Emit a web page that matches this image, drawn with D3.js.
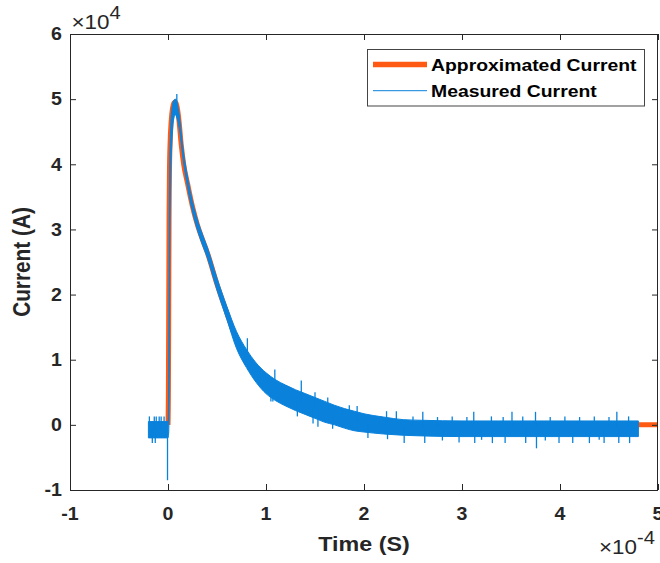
<!DOCTYPE html>
<html><head><meta charset="utf-8">
<script src="https://cdn.jsdelivr.net/npm/d3@7/dist/d3.min.js"></script>
<style>
body{margin:0;background:#fff}
text{font-family:"Liberation Sans",Arial,Helvetica,sans-serif}
</style>
</head><body>
<svg id="chart" width="660" height="563"></svg>
<script>
// ---- data (time in 1e-4 s, current in 1e4 A) ----
const xTicks = [-1, 0, 1, 2, 3, 4, 5];
const yTicks = [-1, 0, 1, 2, 3, 4, 5, 6];
const xTickLabels = ["-1", "0", "1", "2", "3", "4", "5"];
const yTickLabels = ["-1", "0", "1", "2", "3", "4", "5", "6"];
const seriesNames = ["Approximated Current", "Measured Current"];

// Approximated current (fitted curve)
const approxT = [0, 0.004, 0.008, 0.011, 0.015, 0.022, 0.032, 0.045, 0.06, 0.075, 0.09, 0.11, 0.135, 0.16, 0.2, 0.25, 0.3, 0.35, 0.4, 0.5, 0.6, 0.7, 0.8, 0.9, 1.0, 1.2, 1.4, 1.6, 1.8, 2.0, 2.4, 3.0, 4.0, 5.0];
const approxV = [0, 0.5, 2.0, 3.2, 3.9, 4.35, 4.65, 4.85, 4.94, 4.96, 4.9, 4.7, 4.3, 4.0, 3.7, 3.35, 3.07, 2.85, 2.65, 2.16, 1.72, 1.3, 1.02, 0.8, 0.64, 0.45, 0.32, 0.2, 0.11, 0.06, 0.02, 0.005, 0, 0];

// Measured current: dense noisy trace, read as a band (low / high envelope)
const measT  = [-0.2, 0.0, 0.008, 0.012, 0.018, 0.028, 0.04, 0.055, 0.075, 0.1, 0.12, 0.15, 0.2, 0.25, 0.3, 0.35, 0.4, 0.5, 0.6, 0.7, 0.8, 0.9, 1.0, 1.1, 1.2, 1.3, 1.4, 1.5, 1.6, 1.7, 1.8, 1.9, 2.0, 2.2, 2.4, 2.6, 3.0, 4.8];
const measLo = [-0.2, -0.2, -0.1, 0.5, 2.5, 3.8, 4.35, 4.67, 4.76, 4.66, 4.5, 4.12, 3.64, 3.27, 2.99, 2.77, 2.57, 2.07, 1.62, 1.17, 0.88, 0.65, 0.48, 0.37, 0.29, 0.22, 0.16, 0.1, 0.04, 0.0, -0.05, -0.09, -0.11, -0.14, -0.16, -0.17, -0.18, -0.18];
const measHi = [0.05, 0.05, 0.8, 3.0, 4.0, 4.6, 4.85, 4.97, 5.0, 4.9, 4.7, 4.28, 3.8, 3.43, 3.15, 2.93, 2.73, 2.25, 1.82, 1.43, 1.16, 0.95, 0.8, 0.69, 0.61, 0.54, 0.48, 0.42, 0.36, 0.3, 0.25, 0.21, 0.17, 0.12, 0.08, 0.07, 0.06, 0.06];
// Measured current: individual noise spikes (time, tip value)
const spikeT = [-0.19, -0.14, -0.12, -0.09, -0.07, -0.04, -0.16, -0.13, -0.005, 0.09,
  0.81, 1.09, 1.05, 1.07, 1.32, 1.36, 1.5, 1.63, 1.85, 1.93, 2.23, 2.33, 1.48, 1.68, 2.04, 2.24, 1.53,
  2.6, 3.12, 3.51, 3.75, 4.58, 2.5, 2.75, 2.9, 3.05, 3.3, 3.42, 3.62, 3.9, 4.05, 4.2, 4.35, 4.5, 4.7,
  2.41, 2.62, 2.97, 3.13, 3.31, 3.44, 3.65, 3.76, 3.99, 4.13, 4.3, 4.45, 4.6, 4.71, 2.8, 3.2, 3.85, 4.4];
const spikeV = [0.13, 0.13, 0.13, 0.13, 0.13, 0.13, -0.28, -0.28, -0.85, 5.08,
  1.33, 0.85, 0.36, 0.36, 0.13, 0.68, 0.5, 0.42, 0.3, 0.29, 0.21, 0.21, 0.02, -0.06, -0.2, -0.22, -0.03,
  0.2, 0.2, 0.2, 0.2, 0.2, 0.13, 0.12, 0.13, 0.12, 0.13, 0.12, 0.13, 0.12, 0.13, 0.12, 0.13, 0.12, 0.13,
  -0.28, -0.28, -0.27, -0.28, -0.28, -0.28, -0.28, -0.36, -0.28, -0.28, -0.28, -0.28, -0.28, -0.28, -0.24, -0.23, -0.24, -0.23];

// ---- layout / style ----
const W = 660, H = 563;
const L = 70, R = 658, T = 34, B = 490;
const SX = 1.12; // horizontal glyph stretch of the reference
const ORANGE = "#FF5A14", BLUE = "#0A82DC", AX = "#262626";

const svg = d3.select("#chart");
svg.append("rect").attr("width", W).attr("height", H).attr("fill", "#fff");

const x = d3.scaleLinear().domain([-1, 5]).range([L, R]);
const y = d3.scaleLinear().domain([-1, 6]).range([B, T]);

function stext(g, px, py, str, size, weight, anchor, rot) {
  return g.append("text")
    .attr("transform", `translate(${px},${py}) scale(${SX},1)` + (rot ? ` rotate(${rot})` : ""))
    .attr("font-size", size).attr("font-weight", weight)
    .attr("text-anchor", anchor).attr("fill", AX).text(str);
}

// clip
svg.append("clipPath").attr("id", "clip").append("rect")
  .attr("x", L).attr("y", T).attr("width", R - L).attr("height", B - T);
const plot = svg.append("g").attr("clip-path", "url(#clip)");

// approximated current
const approx = approxT.map((t, i) => ({t, v: approxV[i]}));
plot.append("path").datum(approx)
  .attr("fill", "none").attr("stroke", ORANGE).attr("stroke-width", 5)
  .attr("stroke-linejoin", "round")
  .attr("d", d3.line().x(d => x(d.t)).y(d => y(d.v)).curve(d3.curveMonotoneX));

// measured current band
const meas = measT.map((t, i) => ({t, lo: measLo[i], hi: measHi[i]}));
plot.append("path").datum(meas)
  .attr("fill", BLUE).attr("stroke", BLUE).attr("stroke-width", 1)
  .attr("d", d3.area().x(d => x(d.t)).y0(d => y(d.lo)).y1(d => y(d.hi)).curve(d3.curveMonotoneX));

// spikes
const mid = t => {
  const i = Math.max(1, Math.min(measT.length - 1, d3.bisectLeft(measT, t)));
  const a = meas[i - 1], b = meas[i];
  const f = (t - a.t) / (b.t - a.t);
  return ((a.lo + a.hi) / 2) * (1 - f) + ((b.lo + b.hi) / 2) * f;
};
plot.selectAll("line.spike").data(spikeT.map((t, i) => ({t, v: spikeV[i]})))
  .join("line").attr("class", "spike")
  .attr("x1", d => x(d.t)).attr("x2", d => x(d.t))
  .attr("y1", d => y(d.v)).attr("y2", d => y(mid(d.t)))
  .attr("stroke", BLUE).attr("stroke-width", 1.3);

// axes ticks (inside)
const noLab = () => "";
const gB = svg.append("g").attr("transform", `translate(0,${B})`)
  .call(d3.axisBottom(x).tickValues(xTicks).tickSize(-6).tickFormat(noLab));
const gT = svg.append("g").attr("transform", `translate(0,${T})`)
  .call(d3.axisTop(x).tickValues(xTicks).tickSize(-6).tickFormat(noLab));
const gL = svg.append("g").attr("transform", `translate(${L},0)`)
  .call(d3.axisLeft(y).tickValues(yTicks).tickSize(-6).tickFormat(noLab));
const gR = svg.append("g").attr("transform", `translate(${R},0)`)
  .call(d3.axisRight(y).tickValues(yTicks).tickSize(-6).tickFormat(noLab));
[gB, gT, gL, gR].forEach(g => {
  g.select(".domain").remove();
  g.selectAll(".tick line").attr("stroke", AX);
});

// box
svg.append("rect").attr("x", L + 0.5).attr("y", T + 0.5)
  .attr("width", R - L - 1).attr("height", B - T)
  .attr("fill", "none").attr("stroke", AX).attr("stroke-width", 1);

// tick labels
xTicks.forEach((t, i) => stext(svg, x(t), 520, xTickLabels[i], 17.5, "bold", "middle"));
yTicks.forEach((t, i) => stext(svg, 62, y(t) + 6.3, yTickLabels[i], 17.5, "bold", "end"));

// exponent labels
function expo(px, py, sup) {
  const t = svg.append("text")
    .attr("transform", `translate(${px},${py}) scale(${SX},1)`)
    .attr("fill", AX).attr("font-size", 20);
  t.append("tspan").text("\u00D710");
  t.append("tspan").attr("font-size", 18).attr("dy", -10).text(sup);
}
expo(71.5, 28.5, "4");
expo(599, 554, "-4");

// axis labels
stext(svg, 364, 551, "Time (S)", 20.8, "bold", "middle");
stext(svg, 30, 262, "Current (A)", 20.8, "bold", "middle", -90);

// legend
const lg = svg.append("g");
lg.append("rect").attr("x", 367.5).attr("y", 49.5).attr("width", 277).attr("height", 56.5)
  .attr("fill", "#fff").attr("stroke", "#444").attr("stroke-width", 1);
const legY = [64.5, 90.7];
const legBase = [70.7, 96.7];
const legColor = [ORANGE, BLUE];
const legW = [5.5, 1];
seriesNames.forEach((s, i) => {
  lg.append("line").attr("x1", 373).attr("x2", 427).attr("y1", legY[i]).attr("y2", legY[i])
    .attr("stroke", legColor[i]).attr("stroke-width", legW[i]);
  stext(lg, 431, legBase[i], s, 17.3, "bold", "start").attr("fill", "#000");
});
</script>
</body></html>
